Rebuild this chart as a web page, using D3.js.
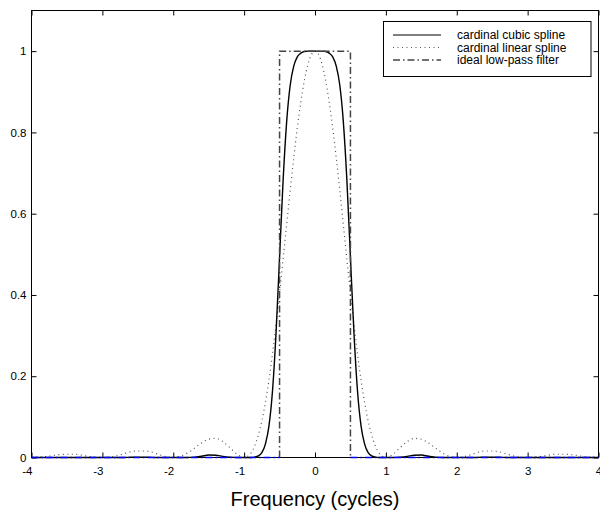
<!DOCTYPE html>
<html lang="en">
<head>
<meta charset="utf-8">
<title>cardinal spline frequency response</title>
<script src="https://d3js.org/d3.v7.min.js"></script>
<style>
body { margin: 0; background: #fff; }
text { font-family: "Liberation Sans", Arial, sans-serif; }
</style>
</head>
<body>
<script type="text/javascript">
var w = 600;
var h = 517;
var padL = 31.5, padR = 598.5, padT = 10.5, padB = 457.5;

// frequency samples (cycles)
var freq = [-4,-3.9,-3.8,-3.7,-3.6,-3.5,-3.4,-3.3,-3.2,-3.1,-3,-2.9,-2.8,-2.7,-2.6,-2.5,-2.4,-2.3,-2.2,-2.1,
  -2,-1.9,-1.8,-1.7,-1.6,-1.5,-1.4,-1.3,-1.2,-1.1,-1,-0.9,-0.85,-0.8,-0.75,-0.7,-0.65,-0.6,-0.55,-0.5,
  -0.45,-0.4,-0.35,-0.3,-0.25,-0.2,-0.15,-0.1,-0.05,0,
  0.05,0.1,0.15,0.2,0.25,0.3,0.35,0.4,0.45,0.5,0.55,0.6,0.65,0.7,0.75,0.8,0.85,0.9,1,
  1.1,1.2,1.3,1.4,1.5,1.6,1.7,1.8,1.9,2,2.1,2.2,2.3,2.4,2.5,2.6,2.7,2.8,2.9,3,
  3.1,3.2,3.3,3.4,3.5,3.6,3.7,3.8,3.9,4];

var cubicSpline = [0,0,0,0,0,0,0,0,0,0,0,0,0,0,0.0005,0.0008,0.0006,0.0003,0,0,
  0,0,0,0.001,0.003,0.0061,0.0055,0.0027,0.0008,0,0,0,0.001,0.004,0.012,0.033,0.077,0.163,0.305,0.493,
  0.682,0.826,0.916,0.963,0.986,0.995,0.999,1,1,1,
  1,1,0.999,0.995,0.986,0.963,0.916,0.826,0.682,0.493,0.305,0.163,0.077,0.033,0.012,0.004,0.001,0,0,
  0,0.0008,0.0027,0.0055,0.0061,0.003,0.001,0,0,0,0,0,0.0003,0.0006,0.0008,0.0005,0,0,0,0,
  0,0,0,0,0,0,0,0,0,0];

var linearSpline = [0,0.001,0.002,0.005,0.007,0.008,0.008,0.006,0.003,0.001,0,0.001,0.004,0.009,0.014,0.016,0.016,0.013,0.007,0.002,
  0,0.003,0.011,0.023,0.036,0.045,0.047,0.039,0.024,0.008,0,0.012,0.029,0.055,0.090,0.135,0.190,0.255,0.327,0.405,
  0.488,0.573,0.657,0.737,0.811,0.875,0.928,0.967,0.992,1,
  0.992,0.967,0.928,0.875,0.811,0.737,0.657,0.573,0.488,0.405,0.327,0.255,0.190,0.135,0.090,0.055,0.029,0.012,0,
  0.008,0.024,0.039,0.047,0.045,0.036,0.023,0.011,0.003,0,0.002,0.007,0.013,0.016,0.016,0.014,0.009,0.004,0.001,0,
  0.001,0.003,0.006,0.008,0.008,0.007,0.005,0.002,0.001,0];

var idealFreq = [-4,-0.5,-0.5,0.5,0.5,4];
var idealGain = [0,0,1,1,0,0];

var xTicks = [-4,-3,-2,-1,0,1,2,3,4];
var xTickLabels = ["-4","-3","-2","-1","0","1","2","3","4"];
var yTicks = [0,0.2,0.4,0.6,0.8,1];
var yTickLabels = ["0","0.2","0.4","0.6","0.8","1"];

var legendLabels = ["cardinal cubic spline","cardinal linear spline","ideal low-pass filter"];

var xScale = d3.scaleLinear().domain([-4,4]).range([padL,padR]);
var yScale = d3.scaleLinear().domain([0,1.1]).range([padB,padT]);

var svg = d3.select("body").append("svg")
  .attr("width", w)
  .attr("height", h);

// axes, ticks point inward
var gx = svg.append("g").attr("transform","translate(0,"+padB+")")
  .call(d3.axisBottom(xScale).tickValues(xTicks).tickSizeInner(-5).tickSizeOuter(0).tickPadding(9)
    .tickFormat(function(d,i){ return xTickLabels[i]; }));
var gxt = svg.append("g").attr("transform","translate(0,"+padT+")")
  .call(d3.axisTop(xScale).tickValues(xTicks).tickSizeInner(-5).tickSizeOuter(0).tickFormat(""));
var gy = svg.append("g").attr("transform","translate("+padL+",0)")
  .call(d3.axisLeft(yScale).tickValues(yTicks).tickSizeInner(-5).tickSizeOuter(0).tickPadding(5)
    .tickFormat(function(d,i){ return yTickLabels[i]; }));
var gyr = svg.append("g").attr("transform","translate("+padR+",0)")
  .call(d3.axisRight(yScale).tickValues(yTicks).tickSizeInner(-5).tickSizeOuter(0).tickFormat(""));

[gx,gxt,gy,gyr].forEach(function(g){
  g.select(".domain").remove();
  g.selectAll("line").attr("stroke","#000");
  g.selectAll("text").attr("font-size","11.5px").attr("fill","#000")
    .attr("font-family","Liberation Sans, Arial, sans-serif");
});
// negative labels end at their tick
gx.selectAll(".tick text")
  .attr("text-anchor", function(d){ return d < 0 ? "end" : "middle"; })
  .attr("dx", function(d){ return d < 0 ? "0.5" : "0"; });

svg.append("rect")
  .attr("x",padL).attr("y",padT)
  .attr("width",padR-padL).attr("height",padB-padT)
  .attr("fill","none").attr("stroke","#000").attr("stroke-width",1);

var line = d3.line()
  .x(function(d){ return xScale(d[0]); })
  .y(function(d){ return yScale(d[1]); })
  .curve(d3.curveMonotoneX);

var straight = d3.line()
  .x(function(d){ return xScale(d[0]); })
  .y(function(d){ return yScale(d[1]); });

svg.append("path")
  .datum(freq.map(function(f,i){ return [f, linearSpline[i]]; }))
  .attr("d", line)
  .attr("fill","none")
  .attr("stroke","#555")
  .attr("stroke-width",1.2)
  .attr("stroke-dasharray","1,3.5");

svg.append("path")
  .datum(freq.map(function(f,i){ return [f, cubicSpline[i]]; }))
  .attr("d", line)
  .attr("fill","none")
  .attr("stroke","#000")
  .attr("stroke-width",1.4);

// ideal low-pass box
svg.append("path")
  .datum(idealFreq.slice(1,5).map(function(f,i){ return [f, idealGain[i+1]]; }))
  .attr("d", straight)
  .attr("fill","none")
  .attr("stroke","#444")
  .attr("stroke-width",1.5)
  .attr("stroke-dasharray","7,3,1.5,3");

// zero part of the ideal filter (drawn blue, on top)
var zeroParts = [[[idealFreq[0],idealGain[0]],[idealFreq[1],idealGain[1]]],
                 [[idealFreq[4],idealGain[4]],[idealFreq[5],idealGain[5]]]];
svg.selectAll("path.zero")
  .data(zeroParts)
  .enter()
  .append("path")
  .attr("class","zero")
  .attr("d", straight)
  .attr("fill","none")
  .attr("stroke","#0000ff")
  .attr("stroke-width",1.5)
  .attr("stroke-dasharray","7,3,1.5,3");

// x label
svg.append("text")
  .attr("x", xScale(0))
  .attr("y", 506)
  .attr("text-anchor","middle")
  .attr("font-size","20px")
  .attr("fill","#000")
  .text("Frequency (cycles)");

// legend
var lg = svg.append("g");
lg.append("rect")
  .attr("x",383.5).attr("y",21.5).attr("width",207.5).attr("height",55)
  .attr("fill","#fff").attr("stroke","#000").attr("stroke-width",1);
var styles = [
  {stroke:"#000", dash:null, width:1.2},
  {stroke:"#555", dash:"1,3.5", width:1.2},
  {stroke:"#444", dash:"7,3,1.5,3", width:1.5}
];
var rowY = [35, 47.5, 60];
legendLabels.forEach(function(lab,i){
  lg.append("line")
    .attr("x1",393).attr("x2",441)
    .attr("y1",rowY[i]).attr("y2",rowY[i])
    .attr("stroke",styles[i].stroke)
    .attr("stroke-width",styles[i].width)
    .attr("stroke-dasharray",styles[i].dash);
  lg.append("text")
    .attr("x",457).attr("y",rowY[i])
    .attr("dy","0.35em")
    .attr("font-size","12px")
    .attr("fill","#000")
    .text(lab);
});
</script>
</body>
</html>
